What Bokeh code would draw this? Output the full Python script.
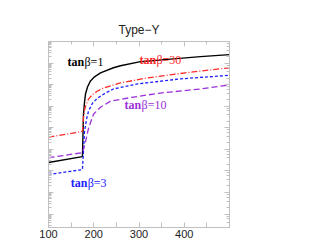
from bokeh.plotting import figure
from bokeh.models import LinearAxis, LogAxis, FixedTicker, CustomJSTickFormatter
from bokeh.core.properties import value
from bokeh.embed import file_html
from bokeh.resources import INLINE

# tanβ = 1 (black, solid)
x_tb1 = [100, 175, 177.3, 179.6, 181.8, 186.2, 192.8, 201.7, 214.9, 243.6,
         259.1, 303.3, 369.6, 435.9, 500]
y_tb1 = [0.0245, 0.0457, 4.23, 15.4, 36.6, 78.0, 149, 229, 353, 605,
         752, 1159, 1517, 1986, 2466]
# tanβ = 30 (red, dash-dot)
x_tb30 = [100, 175, 177.3, 179.6, 181.8, 188.4, 197.2, 208.3, 221.5, 259.1,
          318.8, 402.8, 500]
y_tb30 = [0.365, 0.674, 3.06, 6.51, 10.0, 21.3, 34.7, 50.6, 70.0, 120,
          206, 353, 605]
# tanβ = 3 (blue, short dashes)
x_tb3 = [100, 175, 177.3, 179.6, 184, 188.4, 197.2, 208.3, 226, 243.6,
         296.7, 391.7, 500]
y_tb3 = [0.00671, 0.0115, 0.0779, 0.674, 2.46, 5.84, 13.8, 23.8, 40.8, 62.8,
         108, 185, 270]
# tanβ = 10 (purple, long dashes)
x_tb10 = [100, 175, 181.8, 188.4, 199.4, 214.9, 226, 237, 287.9, 347.5,
          435.9, 500]
y_tb10 = [0.0407, 0.0698, 0.229, 0.933, 4.23, 8.99, 12.4, 17.2, 26.5, 40.8,
          62.8, 96.7]

label_names = ["=1", "=30", "=10", "=3"]
label_x = [142, 301, 268, 149]
label_y = [1148, 1445, 11.2, 0.00275]
label_colors = ["black", "#ff2a2a", "#9b30d9", "#2020ff"]

x_ticks = [100, 200, 300, 400]
x_minor = [150, 250, 350, 450]

frame_col = "#c0c0c0"

p = figure(width=294, height=240, x_range=(100, 500), y_range=(2.37e-5, 1e4),
           y_axis_type="log", output_backend="svg", toolbar_location=None,
           min_border_left=48, min_border_right=65, min_border_top=41,
           min_border_bottom=0, title="Type\u2212Y")
p.title.align = "center"
p.title.text_font = "Liberation Sans"
p.title.text_font_size = "12px"
p.title.text_font_style = "normal"
p.title.text_color = "#222222"
p.xgrid.visible = False
p.ygrid.visible = False
p.outline_line_color = frame_col
p.background_fill_color = "white"

# extra axes for ticks on top and right
p.add_layout(LinearAxis(), "above")
p.add_layout(LogAxis(), "right")

blank = CustomJSTickFormatter(code="return ''")
for ax in p.xaxis:
    ax.ticker = FixedTicker(ticks=x_ticks, minor_ticks=x_minor)
for ax in p.axis:
    ax.axis_line_color = frame_col
    ax.major_tick_line_color = frame_col
    ax.minor_tick_line_color = frame_col
    ax.major_tick_in = 5
    ax.major_tick_out = 0
    ax.minor_tick_in = 3
    ax.minor_tick_out = 0
    ax.major_label_standoff = 0
    ax.major_label_text_font_size = "4px"
    ax.formatter = blank

bx = p.below[0]
bx.formatter = CustomJSTickFormatter(code="return tick.toFixed(0)")
bx.major_label_text_font_size = "11px"
bx.major_label_text_font = "Liberation Sans"
bx.major_label_text_color = "#222222"
bx.major_label_standoff = 2
bx.minor_tick_in = 5

p.line(x_tb1, y_tb1, line_color="black", line_width=1.4)
p.line(x_tb30, y_tb30, line_color="#ff2a2a", line_width=1.3, line_dash="6 2 1 2")
p.line(x_tb3, y_tb3, line_color="#2020ff", line_width=1.3, line_dash="3 2")
p.line(x_tb10, y_tb10, line_color="#9b30d9", line_width=1.3, line_dash="6 3")

for nm, lx, ly, c in zip(label_names, label_x, label_y, label_colors):
    p.text(x=[lx], y=[ly], text=["tan"], text_color=c,
           text_font=value("Liberation Serif"), text_font_style="bold",
           text_font_size="12px", text_baseline="middle", text_align="left")
    p.text(x=[lx], y=[ly], text=["\u03b2" + nm], text_color=c, x_offset=17,
           text_font=value("Liberation Serif"), text_font_style="normal",
           text_font_size="12px", text_baseline="middle", text_align="left")

open("out.html", "w").write(file_html(p, INLINE))
